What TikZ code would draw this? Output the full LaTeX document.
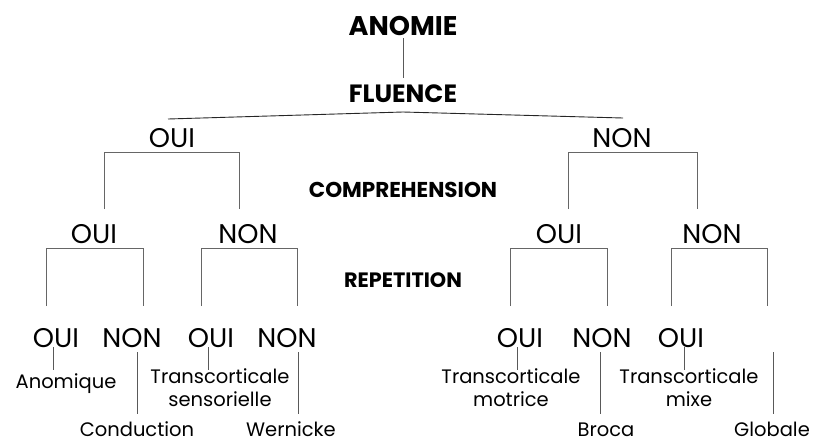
\documentclass[tikz,border=0pt]{standalone}
\usepackage{fontspec}
\setmainfont{Poppins}
\begin{document}
\begin{tikzpicture}[x=1pt,y=-1pt,
  every node/.style={inner sep=0pt,outer sep=0pt},
  title/.style={font=\bfseries\fontsize{25}{30}\selectfont,anchor=base},
  crit/.style={font=\bfseries\fontsize{21.5}{26}\selectfont,anchor=base},
  ans/.style={font=\fontsize{27}{32}\selectfont,anchor=base},
  res/.style={font=\fontsize{19.5}{23}\selectfont,anchor=base,align=center},
  res2/.style={font=\fontsize{19.5}{23}\selectfont,anchor=north,align=center},
  top/.style={draw=black!85,line width=0.9pt},
  br/.style={draw=black!60,line width=0.9pt},
  lk/.style={draw=black!65,line width=0.9pt}]
\useasboundingbox (0,0) rectangle (816,445);
% titles
\node[title,font=\bfseries\fontsize{27}{32}\selectfont] (anomie) at (403,35) {ANOMIE};
\node[title] (fluence) at (403,102) {FLUENCE};
\node[crit] (comp) at (403,197) {COMPREHENSION};
\node[crit,font=\bfseries\fontsize{20.8}{25}\selectfont] (rep) at (403,287) {REPETITION};
\draw[lk] (anomie.south |- 0,38) -- (fluence.north |- 0,78);
% level 1
\node[ans] (o1) at (172,147) {OUI};
\node[ans] (n1) at (622,147) {NON};
\coordinate (fj) at (403,112);
\coordinate (fo) at (168,119);
\coordinate (fn) at (623,118);
\draw[top] (fj) -- (fo);
\draw[top] (fj) -- (fn);
% level 2
\node[ans] (o1o) at (94,243) {OUI};
\node[ans] (o1n) at (248,243) {NON};
\node[ans] (n1o) at (559,243) {OUI};
\node[ans] (n1n) at (712,243) {NON};
\draw[br] (104,209) -- (104,152) -- (239,152) -- (239,209);
\draw[br] (568,209) -- (568,152) -- (697,152) -- (697,209);
% level 3 brackets
\draw[br] (46,306) -- (46,248) -- (143,248) -- (143,306);
\draw[br] (201,306) -- (201,248) -- (297,248) -- (297,306);
\draw[br] (510,306) -- (510,248) -- (607,248) -- (607,306);
\draw[br] (671,306) -- (671,248) -- (767,248) -- (767,306);
% level 3 answers
\node[ans] (a1) at (56,347) {OUI};
\node[ans] (a2) at (132,347) {NON};
\node[ans] (a3) at (211,347) {OUI};
\node[ans] (a4) at (287,347) {NON};
\node[ans] (a5) at (520,347) {OUI};
\node[ans] (a6) at (602,347) {NON};
\node[ans] (a7) at (681,347) {OUI};
% results
\node[res] (anomique) at (66,388) {Anomique};
\node[res2] (tsens) at (220,369) {Transcorticale\\sensorielle};
\node[res] (cond) at (137,436) {Conduction};
\node[res] (wern) at (291,436) {Wernicke};
\node[res2] (tmot) at (511,369) {Transcorticale\\motrice};
\node[res] (broca) at (606,436) {Broca};
\node[res2] (tmix) at (689,369) {Transcorticale\\mixe};
\node[res] (glob) at (772,436) {Globale};
% links
\draw[lk] (53,347) -- (53,370);
\draw[lk] (208,347) -- (208,370);
\draw[lk] (517,347) -- (517,370);
\draw[lk] (684,347) -- (684,370);
\draw[lk] (137,352) -- (137,414);
\draw[lk] (298,352) -- (298,414);
\draw[lk] (600,352) -- (600,414);
\draw[lk] (773,352) -- (773,414);
\end{tikzpicture}
\end{document}
